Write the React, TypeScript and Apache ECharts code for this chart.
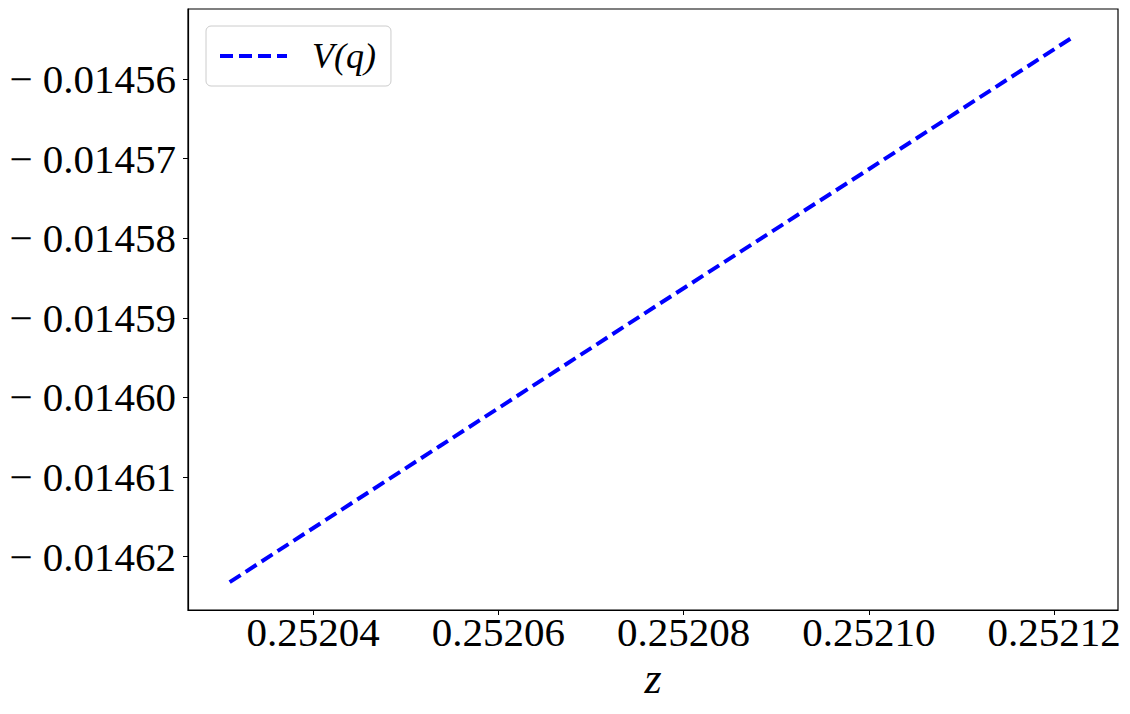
import React, { useEffect, useRef } from "react";
import * as echarts from "echarts";

const zValues = [0.252031, 0.2520537, 0.2520769, 0.2520995, 0.2521222];
const vValues = [-0.0146232, -0.0146061, -0.0145886, -0.0145717, -0.0145546];
const xTicks = [0.25204, 0.25206, 0.25208, 0.2521, 0.25212];
const yTicks = [-0.01462, -0.01461, -0.0146, -0.01459, -0.01458, -0.01457, -0.01456];
const seriesName = "V(q)";

const FONT = "'Liberation Serif', 'DejaVu Serif', serif";

export default function App() {
  const ref = useRef<HTMLDivElement>(null);
  useEffect(() => {
    document.body.style.margin = "0";
    const chart = echarts.init(ref.current!, null, { renderer: "svg" });
    chart.setOption({
      animation: false,
      backgroundColor: "#ffffff",
      grid: {
        left: 188,
        top: 9,
        width: 930,
        height: 601,
        show: true,
        borderColor: "#000000",
        borderWidth: 1.2,
        containLabel: false,
        outerBoundsMode: "none",
      },
      legend: {
        left: 206,
        top: 26,
        orient: "vertical",
        data: [seriesName],
        backgroundColor: "#ffffff",
        borderColor: "#cccccc",
        borderWidth: 1,
        borderRadius: 5,
        padding: [12, 15, 12, 12],
        itemWidth: 67,
        itemHeight: 36,
        itemStyle: { color: "transparent", borderWidth: 0, opacity: 0 },
        lineStyle: { color: "#0000ff", width: 4, type: [13, 6] },
        textStyle: {
          fontFamily: FONT,
          fontStyle: "italic",
          fontSize: 36,
          color: "#000000",
          padding: [0, 0, 0, 20],
        },
      },
      xAxis: {
        type: "value",
        min: 0.2520265,
        max: 0.2521269,
        name: "z",
        nameLocation: "middle",
        nameGap: 44,
        nameTextStyle: {
          fontFamily: FONT,
          fontStyle: "italic",
          fontSize: 44,
          color: "#000000",
        },
        axisLine: { show: true, lineStyle: { color: "#000000", width: 1.2 } },
        axisTick: {
          show: true,
          inside: false,
          length: 5,
          customValues: xTicks,
          lineStyle: { color: "#000000", width: 1 },
        },
        axisLabel: {
          customValues: xTicks,
          margin: 1,
          fontFamily: FONT,
          fontSize: 41,
          color: "#000000",
          formatter: (v: number) => v.toFixed(5),
        },
        splitLine: { show: false },
      },
      yAxis: {
        type: "value",
        min: -0.0146267,
        max: -0.0145512,
        axisLine: { show: true, lineStyle: { color: "#000000", width: 1.2 } },
        axisTick: {
          show: true,
          inside: false,
          length: 5,
          customValues: yTicks,
          lineStyle: { color: "#000000", width: 1 },
        },
        axisLabel: {
          customValues: yTicks,
          margin: 12,
          fontFamily: FONT,
          fontSize: 41,
          color: "#000000",
          formatter: (v: number) => "\u2212 " + Math.abs(v).toFixed(5),
        },
        splitLine: { show: false },
      },
      series: [
        {
          name: seriesName,
          type: "line",
          data: zValues.map((z, i) => [z, vValues[i]]),
          symbol: "none",
          lineStyle: { color: "#0000ff", width: 4, type: [13, 6] },
          itemStyle: { color: "#0000ff" },
        },
      ],
    });
    return () => chart.dispose();
  }, []);
  return <div ref={ref} style={{ width: 1130, height: 714 }} />;
}
